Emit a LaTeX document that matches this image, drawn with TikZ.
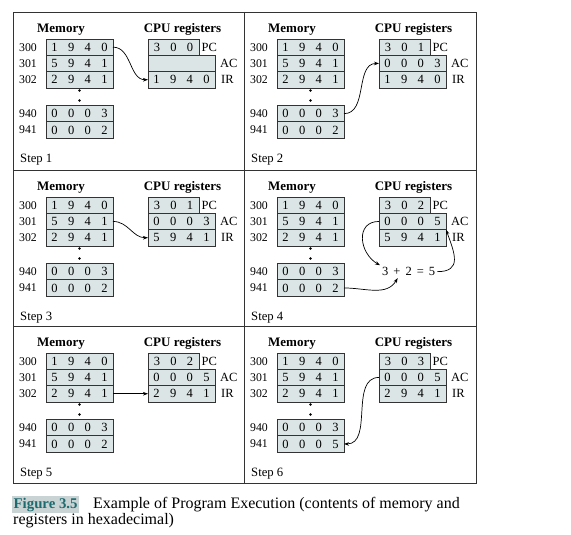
\documentclass[tikz,border=0pt]{standalone}
\usepackage{fontspec}
\setmainfont{Liberation Serif}
\usetikzlibrary{positioning, arrows.meta}
\definecolor{cellfill}{HTML}{DCE5E5}
\definecolor{capfill}{HTML}{C9D3D3}
\definecolor{capteal}{HTML}{1D6A6F}
\definecolor{linegray}{HTML}{333333}
\newcommand{\Digits}[1]{\DigitsLoop#1\relax}
\def\DigitsLoop#1{\ifx\relax#1\else\makebox[16.6pt]{#1}\expandafter\DigitsLoop\fi}
\newcommand{\Sp}{\hspace{5pt}}
\tikzset{
    cell/.style={draw=linegray, line width=0.7pt, fill=cellfill, minimum width=67pt,
      minimum height=16.3pt, inner sep=0pt, outer sep=0pt, font=\fontsize{12.5}{14}\selectfont},
    pccell/.style={cell, minimum width=51pt},
    head/.style={font=\fontsize{13}{15}\selectfont\bfseries, inner sep=0pt, anchor=base},
    addr/.style={font=\fontsize{11.8}{13}\selectfont, inner sep=0pt, anchor=east},
    reg/.style={font=\fontsize{12.5}{14}\selectfont, inner sep=0pt},
    memdot/.style={circle, fill=black, inner sep=0pt, minimum size=2.6pt},
    steptext/.style={font=\fontsize{12.7}{14}\selectfont, inner sep=0pt, anchor=base west},
    frame/.style={draw=linegray, line width=0.9pt},
}
% #1 name, #2 origin, #3 PC, #4 AC, #5 IR, #6 word 941, #7 step
\newcommand{\ProgStep}[7]{%
  \begin{scope}[shift={#2}]
    \node[head] (#1mh) at (48,20.3) {Memory};
    \node[head] (#1rh) at (169.5,20.3) {CPU registers};
    \node[cell, anchor=north west] (#1m300) at (33,27) {\Digits{1940}};
    \node[cell, below=0pt of #1m300] (#1m301) {\Digits{5941}};
    \node[cell, below=0pt of #1m301] (#1m302) {\Digits{2941}};
    \node[cell, anchor=north west] (#1m940) at (33,93.5) {\Digits{0003}};
    \node[cell, below=0pt of #1m940] (#1m941) {\Digits{#6}};
    \foreach \adr in {300,301,302,940,941}
      \node[addr, left=9pt of #1m\adr] (#1a\adr) {\adr};
    \node[memdot] (#1d1) at (66.5,78.5) {};
    \node[memdot, below=7pt of #1d1] (#1d2) {};
    \node[pccell, anchor=north west] (#1pc) at (135,27) {\Digits{#3}};
    \node[cell, anchor=north west] (#1ac) at (#1pc.south west) {\Digits{#4}};
    \node[cell, below=0pt of #1ac] (#1ir) {\Digits{#5}};
    \node[reg, right=2.5pt of #1pc] (#1pcl) {PC};
    \node[reg, right=5pt of #1ac] (#1acl) {AC};
    \node[reg, right=6pt of #1ir] (#1irl) {IR};
    \node[steptext] (#1st) at (7,150.5) {Step #7};
  \end{scope}}

\begin{document}
\begin{tikzpicture}[x=1pt, y=-1pt, >={Stealth[length=5pt, width=3.6pt]}]
    \tikzset{
      every edge/.append style={line width=0.7pt},
      sum/.style={font=\fontsize{12.5}{14}\selectfont, inner sep=2pt},
      capbox/.style={fill=capfill, text=capteal, font=\fontsize{14.8}{13}\selectfont\bfseries,
        inner xsep=1.5pt, inner ysep=2.5pt, text height=10.5pt, text depth=1.5pt, anchor=base west},
      captext/.style={font=\fontsize{16}{13}\selectfont, inner sep=0pt, anchor=base west}
    }
    \useasboundingbox (0,0) rectangle (571,535);

    \draw[frame] (13,12) rectangle (476,483);
    \draw[frame] (244,12) -- (244,483) (13,170) -- (476,170) (13,326) -- (476,326);

    \ProgStep{s1}{(13,12)}{300}{}{1940}{0002}{1}
    \ProgStep{s2}{(244,12)}{301}{0003}{1940}{0002}{2}
    \ProgStep{s3}{(13,170)}{301}{0003}{5941}{0002}{3}
    \ProgStep{s4}{(244,170)}{302}{0005}{5941}{0002}{4}
    \ProgStep{s5}{(13,326)}{302}{0005}{2941}{0002}{5}
    \ProgStep{s6}{(244,326)}{303}{0005}{2941}{0005}{6}

    \draw (s1m300.east) edge[->, out=0, in=180] (s1ir.west);
    \draw (s2m940.east) edge[->, out=0, in=180] (s2ac.west);
    \draw (s3m301.east) edge[->, out=0, in=180] (s3ir.west);

    \node[sum, right=36pt of s4m940] (s4sum) {3\Sp+\Sp2\Sp=\Sp5};
    \draw (s4ac.west) edge[->, out=180, in=150, looseness=1.4] (s4sum.north west);
    \draw (s4m941.east) edge[->, out=0, in=-120] ([xshift=-11pt]s4sum.south);
    \draw (s4sum.east) edge[->, out=0, in=-70, looseness=1.5] (s4ac.south east);

    \draw (s5m302.east) edge[->] (s5ir.west);
    \draw (s6ac.west) edge[->, out=180, in=0] (s6m941.east);

    \node[capbox] (fig) at (12,508.5) {Figure 3.5};
    \node[captext] (cap1) at (93,508.5) {Example of Program Execution (contents of memory and};
    \node[captext] (cap2) at (13,524.5) {registers in hexadecimal)};
\end{tikzpicture}
\end{document}
